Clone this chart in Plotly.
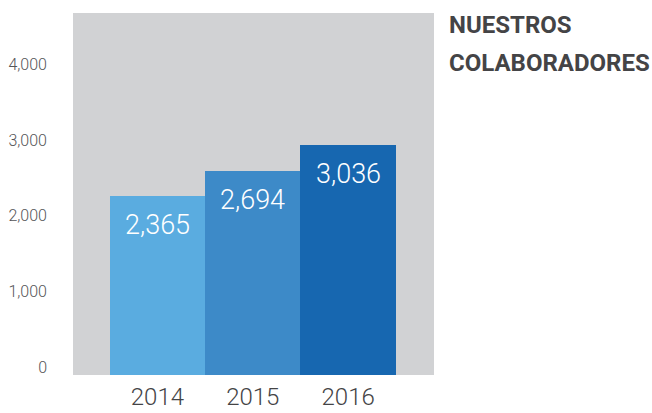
import plotly.graph_objects as go

# data
years = ["2014", "2015", "2016"]
colaboradores = [2365, 2694, 3036]
bar_colors = ["#5AACE0", "#3D8AC8", "#1767B0"]
y_ticks = [0, 1000, 2000, 3000, 4000]
title_lines = ["NUESTROS", "COLABORADORES"]

x_pos = list(range(len(years)))
light = "Roboto, Lato, sans-serif"

fig = go.Figure()
fig.add_trace(go.Bar(
    x=x_pos, y=colaboradores,
    marker=dict(color=bar_colors, line=dict(width=0)),
    width=1.0, showlegend=False, hoverinfo="skip",
))

# value labels inside the bars, a bit below the top
for xi, v in zip(x_pos, colaboradores):
    fig.add_annotation(
        x=xi, y=v, xref="x", yref="y",
        text=f"{v:,}", showarrow=False,
        yanchor="middle", yshift=-29,
        font=dict(family=light, size=27, color="white", weight=300),
    )

# title on the right, one annotation per line
for yy, line in zip([0.967, 0.862], title_lines):
    fig.add_annotation(
        x=1.037, y=yy, xref="paper", yref="paper",
        xanchor="left", yanchor="middle", align="left",
        text=f"<b>{line}</b>", showarrow=False,
        font=dict(family="Roboto, sans-serif", size=24, color="#444446"),
    )

fig.update_layout(
    width=652, height=413,
    margin=dict(l=73, r=218, t=13, b=38),
    paper_bgcolor="white",
    plot_bgcolor="#D1D2D4",
    bargap=0,
)

fig.update_xaxes(
    range=[-0.885, 2.9], automargin=False,
    tickvals=x_pos, ticktext=years,
    showgrid=False, zeroline=False, showline=False,
    ticks="", ticklabelstandoff=5,
    tickfont=dict(family=light, size=24, color="#444446", weight=300),
)
fig.update_yaxes(
    range=[0, 4782], automargin=False,
    tickvals=y_ticks, tickformat=",",
    showgrid=False, zeroline=False, showline=False,
    ticks="", ticklabelstandoff=25, ticklabelshift=-8,
    tickfont=dict(family=light, size=16, color="#555557", weight=300),
)

# page has a default body margin; drop it so the figure fills the window
fig.write_html("out.html", config={"displayModeBar": False},
               post_script="document.body.style.margin='0';")
